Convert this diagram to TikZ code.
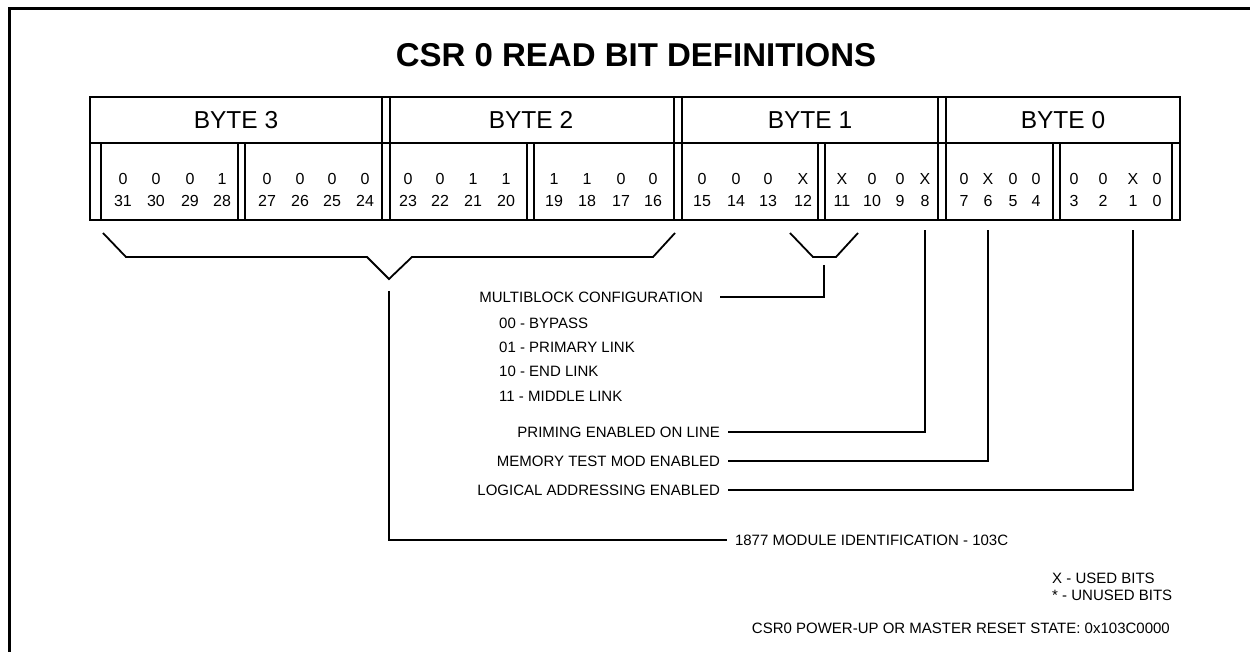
\documentclass[tikz,border=0pt]{standalone}
\usepackage{fontspec}
\setmainfont{Liberation Sans}
\usetikzlibrary{positioning, calc}

\begin{document}
\begin{tikzpicture}[
        x=1pt, y=-1pt,
        % styles
        pageframe/.style={line width=3pt},
        reg/.style={line width=2pt},
        lead/.style={line width=1.8pt},
        heading/.style={font=\bfseries\fontsize{33}{39}\selectfont},
        bytehead/.style={font=\fontsize{24.5}{29}\selectfont},
        bitval/.style={font=\fontsize{16}{19}\selectfont, anchor=base, inner sep=0pt},
        note/.style={font=\fontsize{15}{18}\selectfont, inner sep=0pt}
    ]
    \useasboundingbox (0,0) rectangle (1250,652);

    % page frame (top and left only)
    \draw [pageframe] (9,652) -- (9,9) -- (1250,9);

    % title
    \node (head) [heading] at (636,55) {CSR 0 READ BIT DEFINITIONS};

    % register outline
    \draw [reg] (90,97) rectangle (1180,220);
    \draw [reg] (90,143) -- (1180,143);
    \draw [reg] (101,143) -- (101,220);
    \draw [reg] (1172,143) -- (1172,220);
    % byte borders, full height
    \foreach \x in {382,674,938}
        \draw [reg] (\x,97) -- (\x,220) (\x+7.5,97) -- (\x+7.5,220);
    % nibble borders, lower row
    \foreach \x in {238,527,818,1053}
        \draw [reg] (\x,143) -- (\x,220) (\x+6.5,143) -- (\x+6.5,220);

    % byte headers
    \node (byte3) [bytehead] at (236,120) {BYTE 3};
    \node (byte2) [bytehead] at (531,120) {BYTE 2};
    \node (byte1) [bytehead] at (810,120) {BYTE 1};
    \node (byte0) [bytehead] at (1063,120) {BYTE 0};

    % bit values and bit numbers
    \foreach \n/\x/\v in {31/123/0, 30/156/0, 29/190/0, 28/222/1,
                          27/267/0, 26/300/0, 25/332/0, 24/365/0,
                          23/408/0, 22/440/0, 21/473/1, 20/506/1,
                          19/554/1, 18/587/1, 17/621/0, 16/653/0,
                          15/702/0, 14/736/0, 13/768/0, 12/803/X,
                          11/842/X, 10/872/0, 9/900/0, 8/925/X,
                          7/964/0, 6/988/X, 5/1013/0, 4/1036/0,
                          3/1074/0, 2/1103/0, 1/1133/X, 0/1157/0} {
        \node (v\n) [bitval] at (\x,185) {\v};
        \node (n\n) [bitval] at (\x,207) {\n};
    }

    % brackets under the register
    \draw [lead] (103,233) -- (126,257) -- (367,257) -- (389,279) -- (412,257) -- (653,257) -- (675,233);
    \draw [lead] (790,233) -- (813,257) -- (836,257) -- (858,233);
    \coordinate (idtip) at (389,291);
    \coordinate (mbtip) at (824,265);
    \coordinate (b8) at (925,230);
    \coordinate (b6) at (988,230);
    \coordinate (b1) at (1133,230);

    % labels
    \node (multi) [note, anchor=east, outer xsep=17pt] at (720,297) {MULTIBLOCK CONFIGURATION};
    \node (mb00)  [note, anchor=west] at (499,323) {00 - BYPASS};
    \node (mb01)  [note, anchor=west] at (499,347) {01 - PRIMARY LINK};
    \node (mb10)  [note, anchor=west] at (499,371) {10 - END LINK};
    \node (mb11)  [note, anchor=west] at (499,396) {11 - MIDDLE LINK};
    \node (prime) [note, anchor=east, outer xsep=8pt] at (728,432) {PRIMING ENABLED ON LINE};
    \node (memt)  [note, anchor=east, outer xsep=8pt] at (728,461) {MEMORY TEST MOD ENABLED};
    \node (logad) [note, anchor=east, outer xsep=8pt] at (728,490) {LOGICAL ADDRESSING ENABLED};
    \node (modid) [note, anchor=west, outer xsep=8pt] at (727,540) {1877 MODULE IDENTIFICATION - 103C};

    % legend
    \node (used)   [note, anchor=west] at (1052,578) {X - USED BITS};
    \node (unused) [note, anchor=west] at (1052,595) {* - UNUSED BITS};
    \node (reset)  [note, anchor=east] at (1170,628) {CSR0 POWER-UP OR MASTER RESET STATE: 0x103C0000};

    % connections
    \draw [lead] (mbtip) |- (multi.east);
    \draw [lead] (prime.east) -| (b8);
    \draw [lead] (memt.east) -| (b6);
    \draw [lead] (logad.east) -| (b1);
    \draw [lead] (idtip) |- (modid.west);

\end{tikzpicture}
\end{document}
